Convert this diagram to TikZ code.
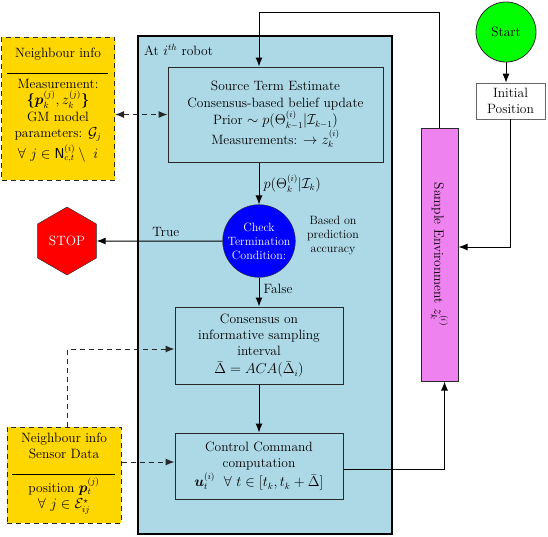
\documentclass[tikz,border=0pt]{standalone}
\usepackage{amsmath,amssymb,bm}
\usetikzlibrary{arrows.meta,shapes.geometric,calc}
\definecolor{bgblue}{RGB}{173,216,230}
\definecolor{gold}{RGB}{255,215,0}
\definecolor{violetc}{RGB}{238,130,238}
\definecolor{edge}{RGB}{40,40,40}
\tikzset{
  arr/.style={draw=black, line width=1pt, -{Latex[length=9pt,width=7pt]}},
  dasharr/.style={draw=edge, line width=1pt, dash pattern=on 5pt off 4pt, -{Latex[length=9pt,width=7pt]}},
  procbox/.style={draw=edge, line width=1pt, fill=bgblue, align=center, inner sep=0pt},
  yellowbox/.style={draw=edge, line width=1pt, fill=gold, dash pattern=on 5pt off 4pt, inner sep=0pt},
  txt/.style={align=center, inner sep=0pt},
  smalltxt/.style={align=center, inner sep=0pt, font=\fontsize{12}{14}\selectfont},
}
\begin{document}
\begin{tikzpicture}[x=1pt,y=-1pt, font=\fontsize{13.5}{16.3}\selectfont]
\useasboundingbox (0,0) rectangle (548,536);
% big robot box
\node[draw=black, line width=1.5pt, fill=bgblue, minimum width=254pt, minimum height=498pt, inner sep=0pt] (robot) at (265,285) {};
\node[txt, anchor=west] (robotlbl) at (144,50) {At $i^{th}$ robot};
% source term box
\node[procbox, minimum width=215pt, minimum height=95pt] (src) at (275.5,114.5) {Source Term Estimate\\Consensus-based belief update\\Prior $\sim p(\Theta_{k-1}^{(i)}|\mathcal{I}_{k-1})$\\Measurements: $\rightarrow z_k^{(i)}$};
% check circle
\node[circle, draw=edge, fill=blue, minimum size=70pt, inner sep=0pt, text=white, align=center, font=\fontsize{12}{14}\selectfont] (chk) at (259,241) {Check\\Termination\\Condition:};
\node[smalltxt] (basis) at (333,236) {Based on\\prediction\\accuracy};
% stop
\node[regular polygon, regular polygon sides=6, shape border rotate=30, draw=edge, fill=red, minimum size=68pt, inner sep=0pt, text=white] (stop) at (67,241) {STOP};
% consensus box
\node[procbox, minimum width=168pt, minimum height=77pt] (cons) at (259,345.5) {Consensus on\\informative sampling\\interval\\[2pt]$\bar{\Delta} = ACA(\bar{\Delta}_i)$};
% control box
\node[procbox, minimum width=168pt, minimum height=66pt] (ctrl) at (259,466) {Control Command\\computation\\[2pt]$\boldsymbol{u}_t^{(i)}\ \ \forall\ t \in [t_k, t_k+\bar{\Delta}]$};
% sample environment
\node[draw=edge, line width=1pt, fill=violetc, minimum width=37pt, minimum height=253pt, inner sep=0pt] (sample) at (439.5,254.5) {};
\node[txt, rotate=-90] (sampletxt) at (sample.center) {Sample Environment $z_k^{(i)}$};
% start
\node[circle, draw=edge, line width=0.8pt, fill=green, minimum size=60pt, inner sep=0pt] (start) at (506,32) {Start};
\node[draw=gray!80!black, line width=0.6pt, fill=white, minimum width=69pt, minimum height=36pt, inner sep=0pt, align=center] (init) at (510.5,101) {Initial\\Position};
% yellow box 1
\node[yellowbox, minimum width=113pt, minimum height=143pt] (y1) at (58,108.5) {};
\node[txt] (y1title) at (58,54) {Neighbour info};
\draw[line width=1pt] (7,73) coordinate (y1l) -- (108,73) coordinate (y1r);
\node[txt] (y1body) at (58,121) {Measurement:\\$\boldsymbol{\{}\boldsymbol{p}_k^{(j)}, z_k^{(j)}\boldsymbol{\}}$\\GM model\\parameters: $\mathcal{G}_j$\\[2pt]$\forall\ j \in \mathsf{N}_{c,t}^{(i)} \setminus\ i$};
% yellow box 2
\node[yellowbox, minimum width=114pt, minimum height=96pt] (y2) at (64,475) {};
\node[txt] (y2title) at (64,446) {Neighbour info\\Sensor Data};
\draw[line width=1pt] (12,474) coordinate (y2l) -- (115,474) coordinate (y2r);
\node[txt] (y2body) at (64,496) {position $\boldsymbol{p}_t^{(j)}$\\$\forall\ j \in \mathcal{E}_{ij}^{\star}$};
% connectors
\coordinate (tc) at (259,12);
\draw[arr] (sample.north) |- (tc) -- (src.north -| tc);
\draw[arr] (src.south -| chk) -- node[right, txt, xshift=4pt] (plbl) {$p(\Theta_k^{(i)}|\mathcal{I}_k)$} (chk.north);
\draw[arr] (chk.west) -- node[above, txt, pos=0.45, yshift=4pt] (truelbl) {True} (stop.east);
\draw[arr] (chk.south) -- node[right, txt, pos=0.4, xshift=4pt] (falselbl) {False} (cons.north);
\draw[arr] (cons.south) -- (ctrl.north);
\draw[arr] ($(ctrl.east)+(0,3)$) -| ($(sample.south)+(5,0)$);
\draw[arr] (init.south) |- ($(sample.east)+(0,-7.5)$);
\draw[arr] (start.south) -- (init.north -| start);
\draw[dasharr, {Latex[length=9pt,width=7pt]}-{Latex[length=9pt,width=7pt]}] (y1.east |- src.west) -- (src.west);
\draw[dasharr] ($(y2.north)+(3,0)$) |- ($(cons.west)+(0,3.5)$);
\draw[dasharr] ($(y2.east)+(0,-13)$) -- ($(ctrl.west)+(0,-4)$);
\end{tikzpicture}
\end{document}
